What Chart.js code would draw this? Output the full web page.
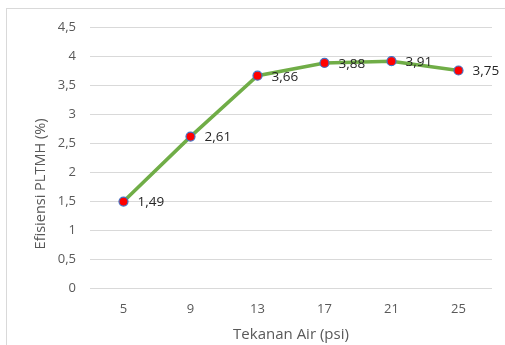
<!DOCTYPE html>
<html>
<head>
<meta charset="utf-8">
<script src="https://cdn.jsdelivr.net/npm/chart.js@4"></script>
<style>
  html, body { margin: 0; padding: 0; background: #ffffff; }
  #wrap { width: 505px; height: 345px; position: relative; }
</style>
</head>
<body>
<div id="wrap"><canvas id="c" width="505" height="345"></canvas></div>
<script>
// Water pressure (psi) vs. micro-hydro efficiency (%)
const pressures = ['5', '9', '13', '17', '21', '25'];
const efficiency = [1.49, 2.61, 3.66, 3.88, 3.91, 3.75];
const yTicks = [0, 0.5, 1, 1.5, 2, 2.5, 3, 3.5, 4, 4.5];
const yTitle = 'Efisiensi PLTMH (%)';

const FONT = '"Open Sans", "Noto Sans", sans-serif';
const GREY = '#595959';
const fmt = v => String(v).replace('.', ',');

// Light frame around the chart object, plus the rotated value-axis title
const framePlugin = {
  id: 'frame',
  beforeDraw(chart) {
    const ctx = chart.ctx;
    ctx.save();
    ctx.fillStyle = '#ffffff';
    ctx.fillRect(0, 0, chart.width, chart.height);
    ctx.strokeStyle = '#d9d9d9';
    ctx.lineWidth = 1;
    ctx.strokeRect(6.5, 8.5, chart.width, chart.height);
    ctx.restore();
  },
  afterDraw(chart) {
    const ctx = chart.ctx;
    ctx.save();
    ctx.font = '14.5px ' + FONT;
    ctx.fillStyle = GREY;
    ctx.textAlign = 'center';
    ctx.textBaseline = 'middle';
    ctx.translate(41, 184);
    ctx.rotate(-Math.PI / 2);
    ctx.fillText(yTitle, 0, 0);
    ctx.restore();
  }
};

// Value labels to the right of each point
const valueLabels = {
  id: 'valueLabels',
  afterDatasetsDraw(chart) {
    const ctx = chart.ctx;
    const meta = chart.getDatasetMeta(0);
    ctx.save();
    ctx.font = '13.5px ' + FONT;
    ctx.fillStyle = '#262626';
    ctx.textAlign = 'left';
    ctx.textBaseline = 'middle';
    meta.data.forEach((pt, i) => {
      ctx.fillText(fmt(efficiency[i]), pt.x + 14, pt.y + 1);
    });
    ctx.restore();
  }
};

new Chart(document.getElementById('c'), {
  type: 'line',
  data: {
    labels: pressures,
    datasets: [{
      data: efficiency,
      borderColor: '#70ad47',
      borderWidth: 3.5,
      tension: 0,
      pointRadius: 4.5,
      pointBackgroundColor: '#ff0000',
      pointBorderColor: '#4472c4',
      pointBorderWidth: 1.2,
      fill: false
    }]
  },
  options: {
    responsive: false,
    animation: false,
    layout: { padding: { left: 6, right: 13, top: 27, bottom: 0 } },
    plugins: { legend: { display: false }, tooltip: { enabled: false } },
    scales: {
      x: {
        offset: true,
        grid: { display: false, drawTicks: false },
        border: { display: false },
        ticks: { color: GREY, font: { family: FONT, size: 13 }, padding: 13 },
        title: {
          display: true, text: 'Tekanan Air (psi)', color: GREY,
          font: { family: FONT, size: 15 }, padding: { top: 4, bottom: 1 }
        },
        afterFit(s) { s.height = 57; }
      },
      y: {
        min: 0, max: 4.5,
        afterBuildTicks(s) { s.ticks = yTicks.map(v => ({ value: v })); },
        grid: { color: '#d9d9d9', drawTicks: false, lineWidth: 1 },
        border: { display: false },
        ticks: { color: GREY, font: { family: FONT, size: 13 }, padding: 14,
                 callback: v => fmt(v) },
        afterFit(s) { s.width = 84; }
      }
    }
  },
  plugins: [framePlugin, valueLabels]
});
</script>
</body>
</html>
